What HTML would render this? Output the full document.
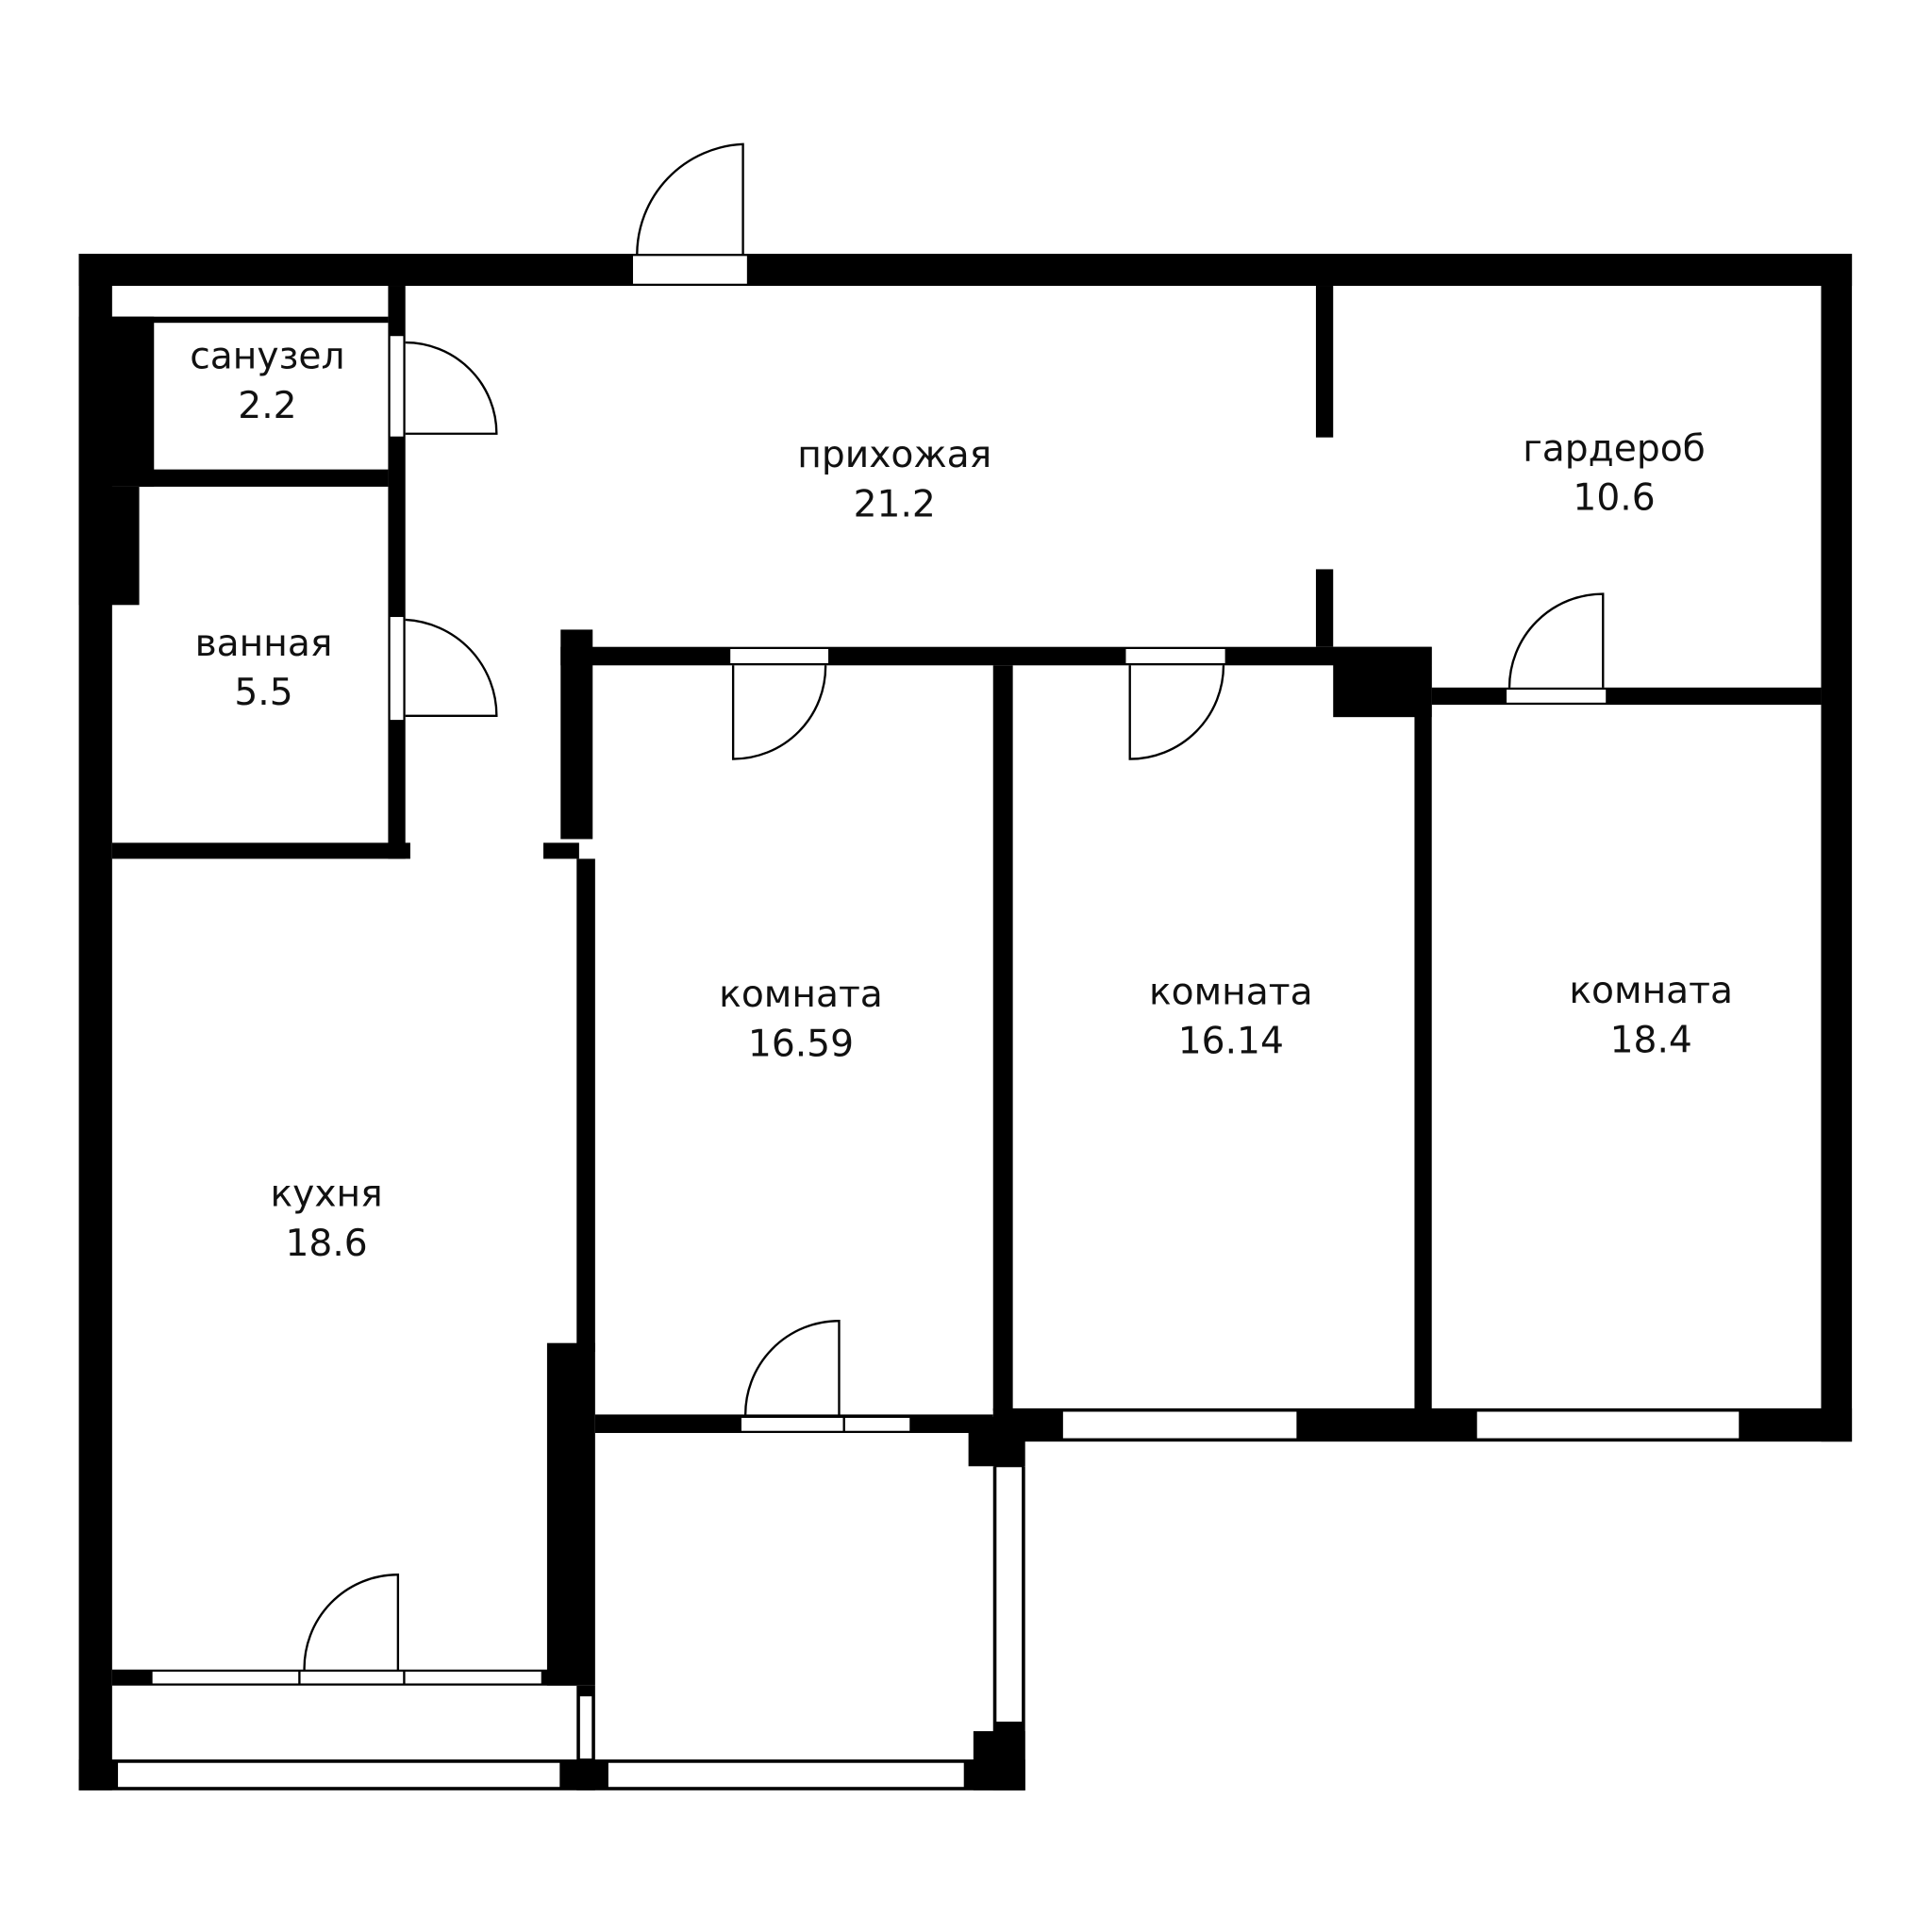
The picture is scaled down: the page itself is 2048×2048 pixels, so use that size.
<!DOCTYPE html>
<html><head><meta charset="utf-8"><style>
html,body{margin:0;padding:0;background:#fff;width:2048px;height:2048px;overflow:hidden}
svg{display:block}
text{font-family:"DejaVu Sans","Liberation Sans",sans-serif;font-size:30px;fill:#111;text-anchor:middle}
</style></head><body>
<svg width="2048" height="2048" viewBox="0 0 1568 1568" xmlns="http://www.w3.org/2000/svg">
<g fill="#000">
<rect x="64" y="206" width="1439" height="26"/>
<rect x="64" y="206" width="27" height="1247"/>
<rect x="1478" y="206" width="25" height="964"/>
<rect x="64" y="1428" width="768" height="25"/>
<rect x="64" y="257" width="61" height="138"/>
<rect x="64" y="395" width="49" height="96"/>
<rect x="91" y="257" width="224" height="5"/>
<rect x="113" y="381" width="202" height="14"/>
<rect x="315" y="232" width="14" height="465"/>
<rect x="91" y="684" width="242" height="13"/>
<rect x="441" y="684" width="29" height="13"/>
<rect x="455" y="511" width="26" height="170"/>
<rect x="468" y="697" width="15" height="400"/>
<rect x="444" y="1090" width="39" height="278"/>
<rect x="455" y="525" width="707" height="15"/>
<rect x="1082" y="525" width="80" height="57"/>
<rect x="1068" y="232" width="14" height="123"/>
<rect x="1068" y="462" width="14" height="63"/>
<rect x="1162" y="558" width="316" height="14"/>
<rect x="806" y="540" width="16" height="605"/>
<rect x="1148" y="540" width="14" height="605"/>
<rect x="806" y="1143" width="697" height="27"/>
<rect x="483" y="1148" width="323" height="15"/>
<rect x="786" y="1150" width="46" height="40"/>
<rect x="806" y="1190" width="26" height="263"/>
<rect x="790" y="1405" width="42" height="48"/>
<rect x="91" y="1355" width="377" height="13"/>
<rect x="468" y="1368" width="15" height="85"/>
</g>
<g fill="#fff" stroke="#000" stroke-width="1.5">
<rect x="513" y="207" width="94" height="24"/>
<rect x="316" y="272" width="12" height="83"/>
<rect x="316" y="500" width="12" height="85"/>
<rect x="592" y="526" width="81" height="13"/>
<rect x="913" y="526" width="82" height="13"/>
<rect x="1222" y="559" width="82" height="12"/>
<rect x="862" y="1145" width="191" height="23"/>
<rect x="1198" y="1145" width="214" height="23"/>
<rect x="601" y="1150" width="138" height="12"/>
<rect x="808" y="1190" width="22" height="208"/>
<rect x="95" y="1430" width="360" height="21"/>
<rect x="493" y="1430" width="290" height="21"/>
<rect x="123" y="1356" width="317" height="11"/>
<rect x="470" y="1376" width="11" height="52"/>
</g>
<g fill="none" stroke="#000" stroke-width="1.8">
<path d="M603 207 V117 A90 90 0 0 0 517 207"/>
<path d="M329 352 H403 A74 74 0 0 0 329 278"/>
<path d="M329 581 H403 A78 78 0 0 0 329 503"/>
<path d="M595 540 V616 A75 75 0 0 0 670 540"/>
<path d="M917 540 V616 A76 76 0 0 0 993 540"/>
<path d="M1301 558 V482 A76 76 0 0 0 1225 558"/>
<path d="M681 1150 V1072 A76 76 0 0 0 605 1150"/>
<path d="M323 1356 V1278 A76 76 0 0 0 247 1356"/>
<line x1="243" y1="1356" x2="243" y2="1367"/><line x1="328" y1="1356" x2="328" y2="1367"/>
<line x1="685" y1="1150" x2="685" y2="1162"/>
</g>
<text x="217" y="299">санузел</text><text x="217" y="339">2.2</text>
<text x="214" y="532">ванная</text><text x="214" y="572">5.5</text>
<text x="726" y="379">прихожая</text><text x="726" y="419">21.2</text>
<text x="1310" y="374">гардероб</text><text x="1310" y="414">10.6</text>
<text x="650" y="817">комната</text><text x="650" y="857">16.59</text>
<text x="999" y="815">комната</text><text x="999" y="855">16.14</text>
<text x="1340" y="814">комната</text><text x="1340" y="854">18.4</text>
<text x="265" y="979">кухня</text><text x="265" y="1019">18.6</text>
</svg>
</body></html>
